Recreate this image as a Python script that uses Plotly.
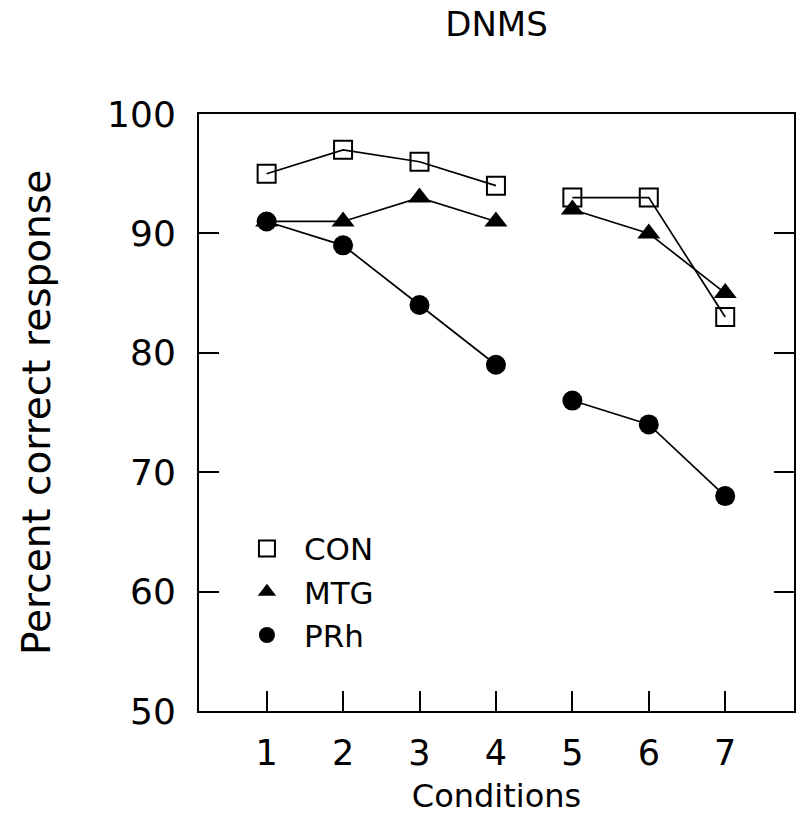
import plotly.graph_objects as go

conditions = [1, 2, 3, 4, 5, 6, 7]
con = [95, 97, 96, 94, 93, 93, 83]
mtg = [91, 91, 93, 91, 92, 90, 85]
prh = [91, 89, 84, 79, 76, 74, 68]
y_ticks = [50, 60, 70, 80, 90, 100]

# Conditions 1-4 and 5-7 form two separate blocks; break the line between them
def split_blocks(vals):
    return vals[:4] + [None] + vals[4:]

x_split = conditions[:4] + [None] + conditions[4:]

FONT = "DejaVu Sans"
series = [
    ("CON", con, dict(symbol="square-open", size=18, color="black", line=dict(width=2, color="black"))),
    ("MTG", mtg, dict(symbol="triangle-up", size=20, color="black", line=dict(width=0))),
    ("PRh", prh, dict(symbol="circle", size=20, color="black", line=dict(width=0))),
]

fig = go.Figure()
for name, vals, marker in series:
    fig.add_trace(go.Scatter(
        x=x_split, y=split_blocks(vals), mode="lines+markers",
        line=dict(color="black", width=1.7), marker=marker,
        connectgaps=False, showlegend=False, name=name,
    ))

# legend entries show only the symbol
for name, vals, marker in series:
    lm = dict(marker)
    lm["size"] = 16 if name == "CON" else 18
    fig.add_trace(go.Scatter(
        x=[None], y=[None], mode="markers", marker=lm, name=name, showlegend=True,
    ))

fig.update_layout(
    width=802, height=815,
    margin=dict(l=199, r=6, t=114, b=103),
    paper_bgcolor="white", plot_bgcolor="white",
    font=dict(family=FONT, color="black"),
    title=dict(text="DNMS", x=0.5, xref="paper", y=1 - 24 / 815, yanchor="middle",
               font=dict(size=34, family=FONT)),
    legend=dict(x=0.052, y=0.317, xanchor="left", yanchor="top",
                font=dict(size=31, family=FONT), bgcolor="rgba(0,0,0,0)",
                itemwidth=64, tracegroupgap=0),
    xaxis=dict(range=[0.115, 7.9], tickvals=conditions, ticks="inside", ticklen=20,
               tickwidth=2, tickcolor="black", showline=True, linewidth=2, linecolor="black",
               mirror=True, showgrid=False, zeroline=False,
               tickfont=dict(size=35, family=FONT), ticklabelstandoff=10,
               title=dict(text="Conditions", font=dict(size=32, family=FONT), standoff=14)),
    yaxis=dict(range=[50, 100], tickvals=y_ticks, ticks="inside", ticklen=20,
               tickwidth=2, tickcolor="black", showline=True, linewidth=2, linecolor="black",
               mirror="ticks", showgrid=False, zeroline=False,
               tickfont=dict(size=36, family=FONT), ticklabelstandoff=14,
               title=dict(text="Percent correct response", font=dict(size=39, family=FONT), standoff=44)),
)

fig.write_html("out.html")
